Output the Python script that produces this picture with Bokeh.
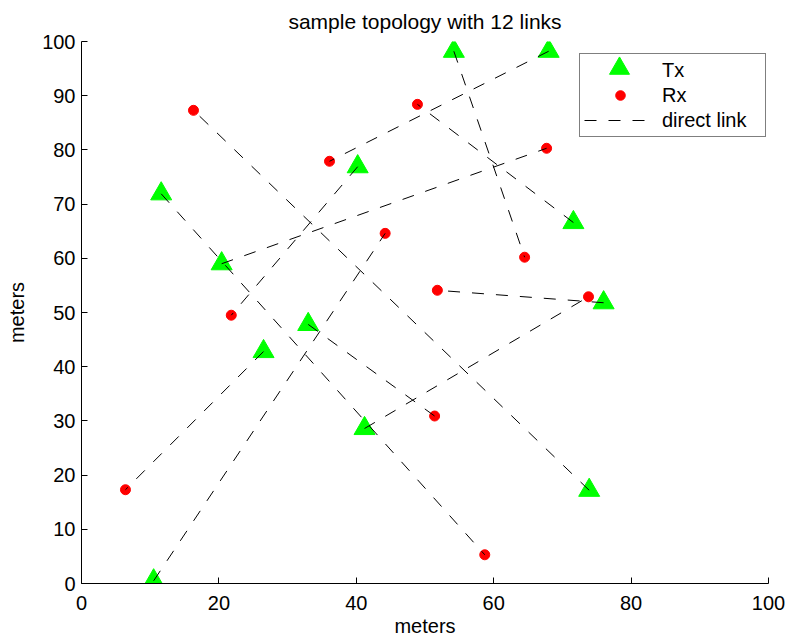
from bokeh.plotting import figure
from bokeh.models import Range1d, FixedTicker, Legend, LegendItem
from bokeh.embed import file_html
from bokeh.resources import INLINE

# Transmitter positions (meters)
tx_x = [54.2, 68.0, 40.2, 71.6, 11.6, 20.4, 76.0, 26.5, 33.0, 41.2, 73.9, 10.5]
tx_y = [98.2, 98.2, 76.9, 66.6, 71.9, 59.0, 51.8, 42.8, 47.8, 28.6, 17.2, 0.5]
# Receiver positions (meters), paired with transmitters by index
rx_x = [64.5, 36.1, 21.8, 48.9, 58.7, 67.7, 51.8, 6.4, 51.4, 73.8, 16.3, 44.2]
rx_y = [60.2, 77.9, 49.5, 88.4, 5.3, 80.3, 54.1, 17.3, 30.9, 52.9, 87.3, 64.6]

x_ticks = [0, 20, 40, 60, 80, 100]
y_ticks = [0, 10, 20, 30, 40, 50, 60, 70, 80, 90, 100]

FONT = "Liberation Sans"

p = figure(width=788, height=639, output_backend="svg", toolbar_location=None,
           x_range=Range1d(0, 100), y_range=Range1d(0, 100),
           min_border_left=81, min_border_right=20, min_border_top=41,
           min_border_bottom=56, title="sample topology with 12 links")

p.title.align = "center"
p.title.vertical_align = "top"
p.title.text_font = FONT
p.title.text_font_size = "21px"
p.title.text_font_style = "normal"
p.title.text_color = "black"
p.title.standoff = 14

p.outline_line_color = None
p.grid.visible = False
p.background_fill_color = "white"
p.border_fill_color = "white"

for ax in (p.xaxis[0], p.yaxis[0]):
    ax.axis_line_color = "black"
    ax.major_tick_line_color = "black"
    ax.major_tick_in = 6
    ax.major_tick_out = 0
    ax.minor_tick_line_color = None
    ax.major_label_text_font = FONT
    ax.major_label_text_font_size = "20px"
    ax.major_label_text_color = "black"
    ax.axis_label_text_font = FONT
    ax.axis_label_text_font_size = "20px"
    ax.axis_label_text_font_style = "normal"
    ax.axis_label_text_color = "black"
    ax.axis_label = "meters"

p.xaxis.ticker = FixedTicker(ticks=x_ticks)
p.yaxis.ticker = FixedTicker(ticks=y_ticks)
p.xaxis.major_label_standoff = 12
p.xaxis.axis_label_standoff = 2
p.yaxis.major_label_standoff = 6
p.yaxis.axis_label_standoff = 11

tx_r = p.scatter(tx_x, tx_y, marker="triangle", size=21,
                 fill_color="#00ff00", line_color="#00ff00")
rx_r = p.scatter(rx_x, rx_y, marker="circle", size=10,
                 fill_color="#ff0000", line_color="#ff0000")
ln_r = p.segment(x0=tx_x, y0=tx_y, x1=rx_x, y1=rx_y,
                 line_color="black", line_width=1, line_dash="12 12")

# main legend box
leg = Legend(items=[LegendItem(label="Tx", renderers=[tx_r]),
                    LegendItem(label="Rx", renderers=[rx_r]),
                    LegendItem(label="direct link", renderers=[ln_r])],
             location=(498, 446), padding=4, spacing=1,
             glyph_width=72, glyph_height=24, label_height=24,
             label_width=99, label_standoff=6,
             border_line_color="black", border_line_width=1,
             background_fill_color="white", background_fill_alpha=1.0,
             label_text_font=FONT, label_text_font_size="20px",
             label_text_color="black", margin=0)
p.add_layout(leg)

# larger triangle glyph overlaid in the Tx row
leg2 = Legend(items=[LegendItem(label=" ", renderers=[tx_r])],
              location=(502, 490), padding=0, spacing=0,
              glyph_width=72, glyph_height=50, label_height=50,
              label_width=1, label_standoff=0,
              border_line_alpha=0, background_fill_alpha=0,
              label_text_font_size="20px", margin=0)
p.add_layout(leg2)

open("out.html", "w").write(file_html(p, INLINE))
